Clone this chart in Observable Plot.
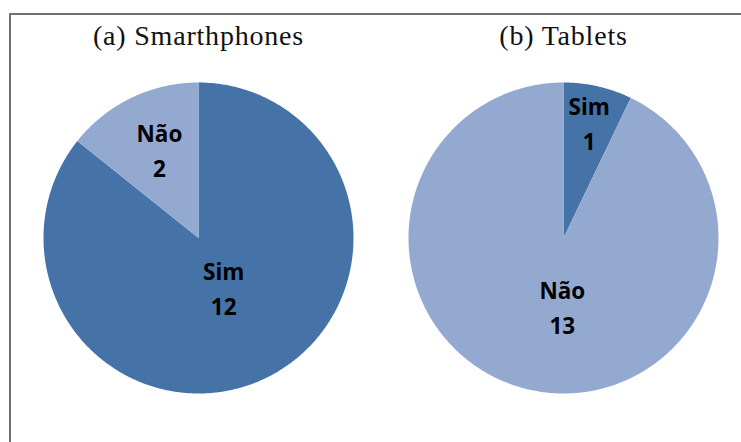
<!DOCTYPE html>
<html>
<head>
<meta charset="utf-8">
<script src="https://cdn.jsdelivr.net/npm/d3@7"></script>
<script src="https://cdn.jsdelivr.net/npm/@observablehq/plot@0.6"></script>
<style>
  html, body { margin: 0; padding: 0; background: #fff; }
  #wrap { position: relative; width: 741px; height: 442px; overflow: hidden; }
  #frame { position: absolute; left: 9px; top: 13px; width: 900px; height: 600px;
           border-top: 2px solid #707070; border-left: 2px solid #707070; pointer-events: none; }
  svg { display: block; }
  g[aria-label="fx-axis tick label"] text { letter-spacing: 0.8px; }
</style>
</head>
<body>
<div id="wrap"><div id="frame"></div></div>
<script>
// ---- data ----
const charts = ["(a) Smarthphones", "(b) Tablets"];
const categories = ["Sim", "Não"];
const smartphones = [12, 2];
const tablets = [1, 13];
const seriesByChart = [smartphones, tablets];

// ---- style / layout ----
const colors = ["#4673a7", "#94a9d0"];
// label radius (fraction of pie radius) and extra pixel shift per chart / category
const labelLayout = [
  [{r: 0.375, dx: 0, dy: -4}, {r: 0.61, dx: 2, dy: -4}],
  [{r: 0.745, dx: 0, dy: -4}, {r: 0.47, dx: 15, dy: -4}]
];

// Build slice polygons (unit circle, y up) and label anchors from data
const polys = [];
const labels = [];
charts.forEach((chart, ci) => {
  const vals = seriesByChart[ci];
  const arcs = d3.pie().sort(null).value(d => d)(vals);
  arcs.forEach((a, k) => {
    const cat = categories[k];
    const steps = Math.max(2, Math.ceil((a.endAngle - a.startAngle) / (Math.PI / 360)));
    polys.push({chart, cat, x: 0, y: 0, key: chart + cat});
    for (let s = 0; s <= steps; s++) {
      const t = a.startAngle + (a.endAngle - a.startAngle) * s / steps;
      polys.push({chart, cat, x: Math.sin(t), y: Math.cos(t), key: chart + cat});
    }
    polys.push({chart, cat, x: 0, y: 0, key: chart + cat});
    const mid = (a.startAngle + a.endAngle) / 2;
    const L = labelLayout[ci][k];
    labels.push({chart, cat, x: L.r * Math.sin(mid), y: L.r * Math.cos(mid), dx: L.dx, dy: L.dy,
                 text: cat + "\n" + vals[k]});
  });
});

const plot = Plot.plot({
  width: 741,
  height: 442,
  marginTop: 82,
  marginBottom: 49,
  marginLeft: 42,
  marginRight: 22,
  fx: {domain: charts, padding: 0.15, label: null},
  x: {domain: [-1, 1], axis: null},
  y: {domain: [-1, 1], axis: null},
  color: {domain: categories, range: colors},
  style: {background: "transparent", overflow: "visible"},
  marks: [
    Plot.axisFx({anchor: "top", tickSize: 0, label: null, fontSize: 28,
                 fontFamily: "Liberation Serif", fill: "#111", dy: -29}),
    Plot.line(polys, {fx: "chart", x: "x", y: "y", z: "key", fill: "cat", stroke: null, curve: "linear"}),
    ...labels.map(l => Plot.text([l], {fx: "chart", x: "x", y: "y", text: "text", dx: l.dx, dy: l.dy,
      fontSize: 22.5, fontWeight: "bold", fontFamily: "Open Sans", lineHeight: 1.55, fill: "#000"}))
  ]
});
document.getElementById("wrap").prepend(plot);
</script>
</body>
</html>
